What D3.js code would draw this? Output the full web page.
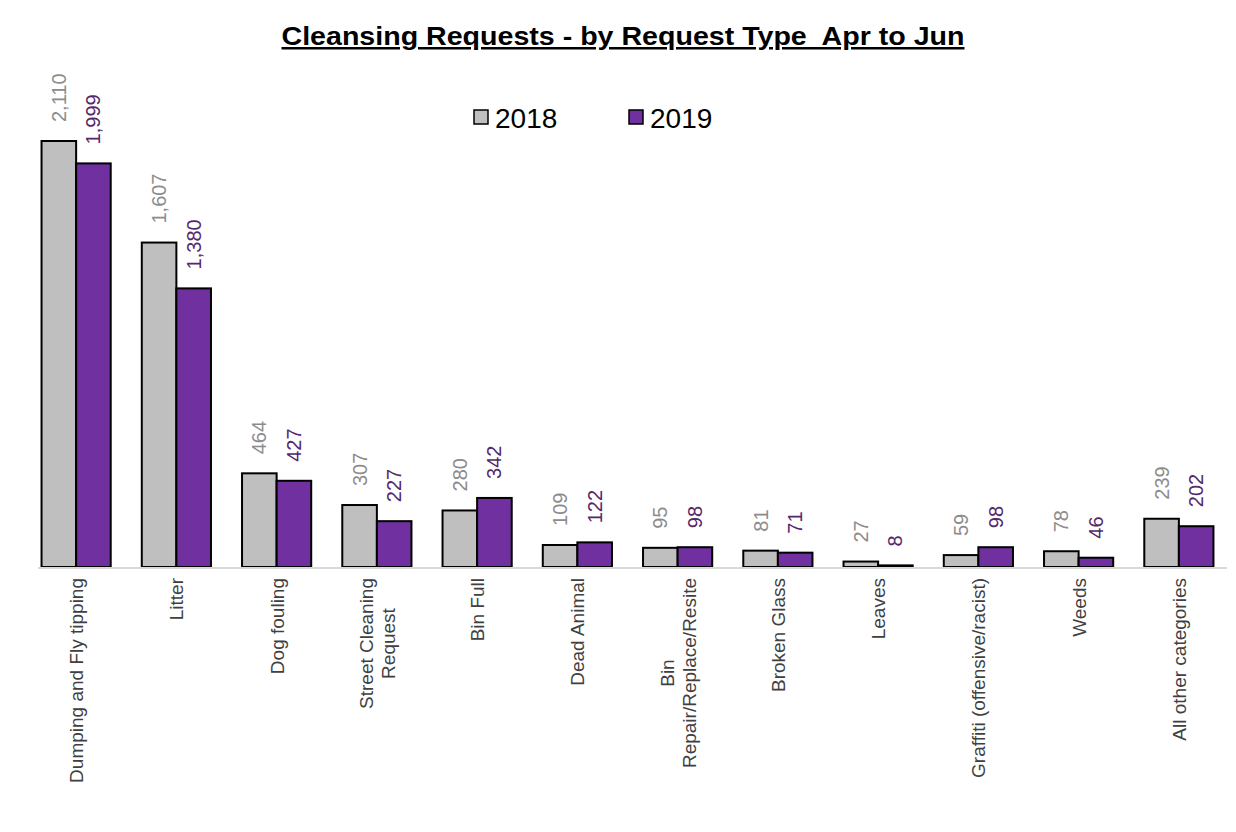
<!DOCTYPE html>
<html>
<head>
<meta charset="utf-8">
<script src="https://cdn.jsdelivr.net/npm/d3@7"></script>
<style>
  body { margin: 0; background: #fff; }
  text { font-family: "Liberation Sans", Arial, sans-serif; }
</style>
</head>
<body>
<div id="chart"></div>
<script>
// Data
const categories = [
  ["Dumping and Fly tipping"],
  ["Litter"],
  ["Dog fouling"],
  ["Street Cleaning", "Request"],
  ["Bin Full"],
  ["Dead Animal"],
  ["Bin", "Repair/Replace/Resite"],
  ["Broken Glass"],
  ["Leaves"],
  ["Graffiti (offensive/racist)"],
  ["Weeds"],
  ["All other categories"]
];
const years = ["2018", "2019"];
const values2018 = [2110, 1607, 464, 307, 280, 109, 95, 81, 27, 59, 78, 239];
const values2019 = [1999, 1380, 427, 227, 342, 122, 98, 71, 8, 98, 46, 202];

const W = 1236, H = 832;
const baseline = 567;
const fill = { "2018": "#bfbfbf", "2019": "#7030a0" };
const labelColor = { "2018": "#8c8c8c", "2019": "#55286b" };

const svg = d3.select("#chart")
  .append("svg")
  .attr("width", W)
  .attr("height", H);

const x = d3.scaleBand()
  .domain(d3.range(categories.length))
  .range([26, 1229])
  .paddingInner(0.31)
  .paddingOuter(0.155);

const xs = d3.scaleBand()
  .domain(years)
  .range([0, x.bandwidth()]);

const y = d3.scaleLinear()
  .domain([0, 2110])
  .range([baseline, 141]);

// Title (keep the double space before "Apr")
svg.append("text")
  .attr("x", 623)
  .attr("y", 45)
  .attr("text-anchor", "middle")
  .attr("font-size", 25)
  .attr("font-weight", "bold")
  .attr("text-decoration", "underline")
  .style("white-space", "pre")
  .attr("textLength", 683)
  .attr("lengthAdjust", "spacingAndGlyphs")
  .text("Cleansing Requests - by Request Type  Apr to Jun");

// Legend
const legend = svg.append("g");
const legendX = { "2018": 474, "2019": 629 };
years.forEach(yr => {
  legend.append("rect")
    .attr("x", legendX[yr])
    .attr("y", 110)
    .attr("width", 14)
    .attr("height", 14)
    .attr("fill", fill[yr])
    .attr("stroke", "#000")
    .attr("stroke-width", 1.5);
  legend.append("text")
    .attr("x", legendX[yr] + 21)
    .attr("y", 128)
    .attr("font-size", 28)
    .attr("fill", "#000")
    .text(yr);
});

// Bars
const rows = categories.map((c, i) => ({ i, v: { "2018": values2018[i], "2019": values2019[i] } }));

const groups = svg.selectAll(".grp")
  .data(rows)
  .enter().append("g")
  .attr("class", "grp")
  .attr("transform", d => `translate(${x(d.i)},0)`);

groups.selectAll("rect")
  .data(d => years.map(yr => ({ yr, v: d.v[yr] })))
  .enter().append("rect")
  .attr("x", d => xs(d.yr))
  .attr("y", d => y(d.v))
  .attr("width", xs.bandwidth())
  .attr("height", d => baseline - y(d.v))
  .attr("fill", d => fill[d.yr])
  .attr("stroke", "#000")
  .attr("stroke-width", 2);

// Value labels
groups.selectAll(".val")
  .data(d => years.map(yr => ({ yr, v: d.v[yr] })))
  .enter().append("text")
  .attr("class", "val")
  .attr("transform", d => `translate(${xs(d.yr) + xs.bandwidth() / 2 + 7},${y(d.v) - 19}) rotate(-90)`)
  .attr("font-size", 20)
  .attr("fill", d => labelColor[d.yr])
  .text(d => d3.format(",")(d.v));

// Axis line
svg.append("line")
  .attr("x1", 38)
  .attr("x2", 1227)
  .attr("y1", baseline + 1)
  .attr("y2", baseline + 1)
  .attr("stroke", "#d9d9d9")
  .attr("stroke-width", 2);

// Category labels (lines centred on each other, top edge at 578)
const catG = svg.selectAll(".cat")
  .data(categories)
  .enter().append("g")
  .attr("class", "cat")
  .attr("transform", (d, i) => `translate(${x(i) + x.bandwidth() / 2 + 7},578) rotate(-90)`);

catG.each(function(d) {
  const g = d3.select(this);
  const lines = d.map((line, k) => g.append("text")
    .attr("font-size", 19)
    .attr("fill", "#404040")
    .attr("text-anchor", "middle")
    .attr("y", (k - (d.length - 1) / 2) * 22)
    .text(line));
  const maxLen = d3.max(lines, t => t.node().getComputedTextLength());
  lines.forEach(t => t.attr("x", -maxLen / 2));
});
</script>
</body>
</html>
